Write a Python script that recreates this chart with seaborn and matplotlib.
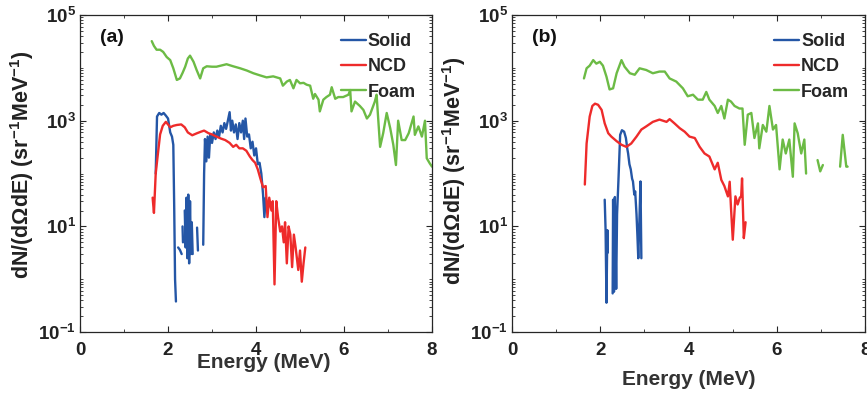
import numpy as np
import pandas as pd
import matplotlib
matplotlib.use("Agg")
import matplotlib.pyplot as plt
from matplotlib.ticker import FixedLocator, LogLocator, MultipleLocator, NullFormatter
import seaborn as sns

# ---- panel (a) ----
a_foam_E = [1.63, 1.68, 1.74, 1.82, 1.89, 1.97, 2.05, 2.12, 2.20, 2.27, 2.33, 2.39, 2.45, 2.50,
            2.58, 2.65, 2.73, 2.80, 2.88, 3.00, 3.10, 3.20, 3.33, 3.48, 3.64, 3.79, 3.94, 4.09,
            4.24, 4.39, 4.55, 4.61, 4.70, 4.77, 4.85, 4.92, 5.00, 5.08, 5.15, 5.23, 5.30, 5.34,
            5.42, 5.45, 5.53, 5.60, 5.68, 5.72, 5.80, 5.87, 5.98, 6.10, 6.14, 6.17, 6.25, 6.36,
            6.44, 6.52, 6.59, 6.70, 6.74, 6.82, 6.89, 6.97, 7.05, 7.12, 7.18, 7.23, 7.31, 7.39,
            7.47, 7.58, 7.61, 7.69, 7.77, 7.84, 7.88, 7.95, 8.00]
a_foam = [3.2e4, 2.6e4, 2.2e4, 2.2e4, 2.0e4, 1.6e4, 1.4e4, 9.8e3, 5.9e3, 6.3e3, 8.0e3, 1.05e4, 1.5e4, 1.7e4,
          1.3e4, 9.1e3, 6.3e3, 9.8e3, 1.07e4, 1.05e4, 1.05e4, 1.1e4, 1.17e4, 1.07e4, 9.8e3, 8.9e3, 7.9e3, 7.2e3,
          6.6e3, 6.9e3, 6.3e3, 4.6e3, 5.5e3, 5.9e3, 4.1e3, 5.9e3, 5.1e3, 5.2e3, 4.8e3, 4.6e3, 2.6e3, 3.2e3,
          2.5e3, 1.5e3, 2.5e3, 2.8e3, 3.1e3, 4.3e3, 2.6e3, 2.8e3, 2.8e3, 3.1e3, 3.8e3, 1.5e3, 2.3e3, 1.9e3,
          1.6e3, 1.1e3, 1.3e3, 2.3e3, 3.1e3, 3.2e2, 5.8e2, 1.4e3, 7.2e2, 3.5e2, 1.45e2, 1.0e3, 4.3e2, 4.3e2,
          5.8e2, 1.2e3, 5.4e2, 7.8e2, 5.0e2, 1.0e3, 1.95e2, 1.55e2, 1.35e2]

a_solid_E = [1.72, 1.75, 1.80, 1.85, 1.90, 1.95, 2.00, 2.05, 2.09, 2.12, 2.14, 2.16, 2.18, np.nan,
             2.23, 2.27, 2.31, np.nan, 2.33, 2.34, np.nan,
             2.38, 2.40, 2.42, 2.44, 2.46, 2.48, 2.50, 2.52, 2.54, 2.56, np.nan, 2.66, 2.68, np.nan,
             2.80, 2.82, 2.84, 2.87, 2.90, 2.93, 2.96, 3.00, 3.04, 3.08, 3.12, 3.16, 3.20, 3.24,
             3.28, 3.32, 3.36, 3.40, 3.43, 3.46, 3.50, 3.54, 3.58, 3.62, 3.66, 3.70, 3.73, 3.76,
             3.80, 3.84, 3.88, 3.92, 3.96, 4.00, 4.04, 4.08, 4.12, 4.16, 4.19, 4.22, 4.26, 4.30]
a_solid = [1.0e2, 1.2e3, 1.4e3, 1.3e3, 1.4e3, 1.25e3, 1.1e3, 6.0e2, 5.0e2, 3.5e2, 2.5e1, 1.0, 0.38, np.nan,
           4.0, 3.6, 3.0, np.nan, 10.0, 5.0, np.nan,
           2.0e1, 4.0, 3.5e1, 2.5, 4.0e1, 2.0, 3.0e1, 3.0, 1.2e1, 3.0, np.nan, 9.5, 3.5, np.nan,
           4.5, 1.0e2, 4.5e2, 1.7e2, 5.0e2, 2.0e2, 5.5e2, 3.8e2, 6.0e2, 4.5e2, 6.5e2, 5.0e2, 8.0e2, 6.0e2,
           9.0e2, 7.0e2, 1.0e3, 1.45e3, 6.5e2, 1.0e3, 6.0e2, 8.5e2, 4.5e2, 9.0e2, 6.0e2, 1.0e3, 4.5e2, 1.1e3,
           5.0e2, 5.5e2, 3.0e2, 4.0e2, 2.2e2, 3.0e2, 1.5e2, 1.6e2, 1.0e2, 4.0e1, 1.5e1, 3.5e1, 2.0e1, 3.0e1]

a_ncd_E = [1.65, 1.68, 1.72, 1.76, 1.82, 1.88, 1.95, 2.00, 2.05, 2.12, 2.20, 2.30, 2.38, 2.45,
           2.55, 2.66, 2.75, 2.82, 2.92, 3.00, 3.10, 3.20, 3.30, 3.40, 3.48, 3.55, 3.62, 3.70,
           3.78, 3.86, 3.92, 3.98, 4.04, 4.10, 4.16, 4.22, 4.26, 4.30, 4.35, 4.38, 4.42, 4.46,
           4.50, 4.55, 4.59, 4.63, 4.66, 4.70, 4.74, 4.78, 4.82, 4.86, 4.90, 4.96, 5.00, 5.04,
           5.08, 5.12]
a_ncd = [3.5e1, 1.8e1, 1.0e2, 2.0e2, 5.5e2, 8.0e2, 9.5e2, 8.5e2, 7.5e2, 8.0e2, 8.3e2, 8.5e2, 7.5e2, 6.0e2,
         5.3e2, 5.8e2, 6.2e2, 6.5e2, 5.8e2, 5.5e2, 5.0e2, 4.6e2, 4.3e2, 3.8e2, 3.2e2, 3.5e2, 3.0e2, 3.0e2,
         2.7e2, 2.1e2, 1.8e2, 1.6e2, 1.2e2, 8.0e1, 5.5e1, 5.8e1, 1.5e1, 3.5e1, 2.0e1, 3.0e1, 0.8, 3.0e1,
         1.5e1, 8.0, 1.0e1, 5.0, 1.2e1, 2.0, 1.0e1, 7.0, 1.7, 7.0, 4.0, 1.5, 3.5, 0.9,
         2.0, 4.0]

# ---- panel (b) ----
b_foam_E = [1.63, 1.69, 1.76, 1.84, 1.91, 1.99, 2.06, 2.14, 2.21, 2.29, 2.37, 2.48, 2.55, 2.67,
            2.78, 2.89, 3.04, 3.19, 3.34, 3.46, 3.57, 3.72, 3.87, 3.98, 4.10, 4.21, 4.32, 4.40,
            4.47, 4.59, 4.66, 4.74, 4.81, 4.89, 4.96, 5.04, 5.15, 5.22, 5.27, 5.34, 5.42, 5.49,
            5.57, 5.60, 5.68, 5.76, 5.83, 5.91, 5.98, 6.06, 6.13, 6.20, 6.28, 6.36, 6.40, 6.47,
            6.55, 6.62, 6.66, np.nan, 6.92, 6.98, 7.04, np.nan, 7.43, 7.49, 7.57, 7.60]
b_foam = [6.3e3, 9.8e3, 1.1e4, 1.4e4, 1.2e4, 1.3e4, 1.1e4, 6.8e3, 3.9e3, 4.1e3, 7.9e3, 1.4e4, 1.05e4, 7.9e3,
          7.4e3, 9.8e3, 9.1e3, 7.9e3, 8.5e3, 8.5e3, 6.3e3, 5.5e3, 4.1e3, 2.9e3, 3.1e3, 2.5e3, 2.5e3, 3.5e3,
          2.5e3, 1.9e3, 1.4e3, 1.9e3, 1.1e3, 2.5e3, 2.3e3, 1.9e3, 1.7e3, 1.7e3, 3.5e2, 1.3e3, 1.4e3, 4.7e2,
          8.9e2, 3.0e2, 8.3e2, 6.2e2, 1.9e3, 6.8e2, 8.3e2, 1.2e2, 4.4e2, 2.4e2, 4.4e2, 8.7e1, 8.9e2, 5.8e2,
          2.4e2, 4.4e2, 1.0e2, np.nan, 1.8e2, 1.1e2, 1.45e2, np.nan, 1.35e2, 5.4e2, 1.35e2, 1.35e2]

b_ncd_E = [1.65, 1.69, 1.76, 1.82, 1.88, 1.95, 2.03, 2.10, 2.18, 2.25, 2.37, 2.48, 2.59, 2.70,
           2.82, 2.93, 3.04, 3.19, 3.34, 3.50, 3.57, 3.68, 3.80, 3.91, 4.02, 4.14, 4.25, 4.36,
           4.47, 4.59, 4.66, 4.74, 4.81, 4.89, 4.93, 4.96, 5.00, 5.06, 5.11, 5.16, 5.19, 5.21,
           5.25, 5.29]
b_ncd = [6.2e1, 3.7e2, 1.2e3, 1.9e3, 2.1e3, 2.0e3, 1.6e3, 8.9e2, 5.8e2, 5.0e2, 4.1e2, 3.5e2, 3.2e2, 3.7e2,
         5.0e2, 6.8e2, 7.8e2, 9.5e2, 1.05e3, 9.5e2, 1.07e3, 8.9e2, 7.2e2, 6.2e2, 5.0e2, 4.7e2, 3.2e2, 2.4e2,
         2.1e2, 1.2e2, 1.6e2, 7.6e1, 5.8e1, 3.7e1, 7.0e1, 2.2e1, 5.6, 3.7e1, 2.6e1, 3.5e1, 3.7e1, 8.1e1,
         6.0, 1.2e1]

b_solid_E = [2.10, 2.12, 2.14, 2.16, 2.17, np.nan, 2.28, 2.29, 2.31, 2.33, 2.36, 2.38, 2.41, 2.45,
             2.49, 2.54, 2.58, 2.61, 2.63, 2.66, 2.69, 2.72, 2.74, 2.77, 2.79, 2.82, 2.84, 2.86,
             2.89, 2.91, 2.93]
b_solid = [3.2e1, 8.5, 0.36, 8.5, 3.2, np.nan, 0.54, 3.2e1, 0.58, 3.6e1, 0.66, 1.7e1, 7.1e1, 5.4e2,
           6.6e2, 6.2e2, 4.7e2, 3.0e2, 2.4e2, 1.5e2, 1.2e2, 8.0e1, 7.1e1, 4.0e1, 4.6e1, 1.7e1, 6.9, 2.5,
           1.7e1, 7.1e1, 2.5]

series_names = ["Solid", "NCD", "Foam"]
colors = {"Solid": "#2456a6", "NCD": "#ee2b2b", "Foam": "#6cbb45"}


def make_frame(parts):
    # NaN in the energy list marks a break in the curve -> new segment id
    rows = []
    seg = 0
    for name, E, v in parts:
        for e, y in zip(E, v):
            if np.isnan(e):
                seg += 1
                continue
            rows.append((name, seg, e, y))
        seg += 1
    return pd.DataFrame(rows, columns=["series", "seg", "E", "val"])


sns.set_style("ticks")
plt.rcParams["font.family"] = ["Liberation Sans", "DejaVu Sans"]
plt.rcParams["font.weight"] = "bold"
plt.rcParams["mathtext.fontset"] = "custom"
plt.rcParams["mathtext.rm"] = "Liberation Sans:bold"
plt.rcParams["mathtext.bf"] = "Liberation Sans:bold"
plt.rcParams["mathtext.default"] = "bf"
plt.rcParams["axes.unicode_minus"] = False

fig = plt.figure(figsize=(8.67, 3.94), dpi=100)
ax1 = fig.add_axes([0.0923, 0.157, 0.406, 0.805])
ax2 = fig.add_axes([0.5905, 0.157, 0.4075, 0.805])

panels = [
    (ax1, "(a)", make_frame([("Solid", a_solid_E, a_solid), ("NCD", a_ncd_E, a_ncd), ("Foam", a_foam_E, a_foam)]),
     (0.523, -0.066), 0.527),
    (ax2, "(b)", make_frame([("Solid", b_solid_E, b_solid), ("NCD", b_ncd_E, b_ncd), ("Foam", b_foam_E, b_foam)]),
     (0.5, -0.118), 0.51),
]

for ax, tag, df, lab_xy, ylab_y in panels:
    sns.lineplot(data=df, x="E", y="val", hue="series", units="seg", estimator=None,
                 sort=False, hue_order=series_names, palette=colors, lw=1.7, ax=ax)
    ax.set_yscale("log")
    ax.set_xlim(0, 8)
    ax.set_ylim(0.1, 1e5)
    ax.xaxis.set_major_locator(MultipleLocator(2))
    ax.xaxis.set_minor_locator(MultipleLocator(1))
    ax.yaxis.set_major_locator(FixedLocator([1e-1, 1e1, 1e3, 1e5]))
    ax.yaxis.set_minor_locator(LogLocator(base=10, subs=np.arange(1, 10), numticks=20))
    ax.yaxis.set_minor_formatter(NullFormatter())
    ax.tick_params(which="both", direction="in", top=True, right=True, colors="#262626",
                   labelsize=13.5, labelcolor="#222222")
    ax.tick_params(which="major", length=4, width=0.8)
    ax.tick_params(which="minor", length=2, width=0.6)
    ax.tick_params(axis="x", pad=7)
    ax.tick_params(axis="y", pad=3)
    for s in ax.spines.values():
        s.set_color("#262626")
        s.set_linewidth(0.9)
    ax.set_xlabel("Energy (MeV)", fontsize=15, fontweight="bold", color="#333333")
    ax.xaxis.set_label_coords(*lab_xy)
    ax.set_ylabel(r"dN/(d$\Omega$dE) (sr$^{-1}$MeV$^{-1}$)", fontsize=15.5, fontweight="bold", color="#222222")
    ax.yaxis.set_label_coords(-0.125, ylab_y)
    ax.text(0.057, 0.93, tag, transform=ax.transAxes, fontsize=14, fontweight="bold",
            va="center", ha="left", color="#111111")
    sns.move_legend(ax, "upper right", bbox_to_anchor=(0.975, 0.965), frameon=False, title=None,
                    fontsize=13, handlelength=1.4, handletextpad=0.1, labelspacing=0.45,
                    borderaxespad=0.0)

fig.savefig("out.png", dpi=100)
